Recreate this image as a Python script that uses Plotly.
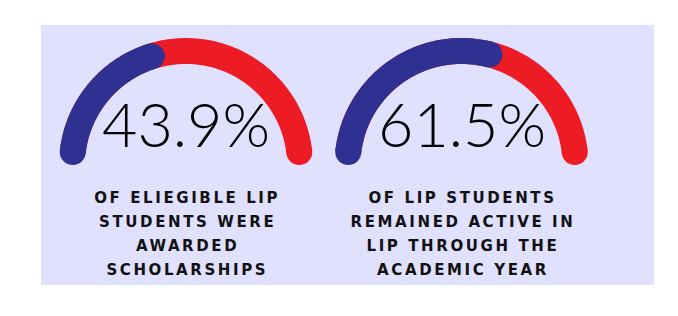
import numpy as np
import plotly.graph_objects as go

# ---- data ----
values = [43.9, 61.5]
value_labels = ["43.9%", "61.5%"]
captions = [
    ["OF ELIEGIBLE LIP", "STUDENTS WERE", "AWARDED", "SCHOLARSHIPS"],
    ["OF LIP STUDENTS", "REMAINED ACTIVE IN", "LIP THROUGH THE", "ACADEMIC YEAR"],
]
gauge_max = 100

# ---- layout / style ----
W, H = 678, 316
centers_x = [186, 461.5]
cy = 165
R = 114
LW = 26
BLUE = "#2E3192"
RED = "#ED1C24"
BG = "#E0E0FF"
caption_y = [197.5, 221.7, 245.9, 270.1]
number_y = 123

fig = go.Figure()
delta = np.degrees((LW / 2) / R)


def arc(cx, a0, a1, n=160):
    t = np.radians(np.linspace(a0, a1, n))
    return cx + R * np.cos(t), cy - R * np.sin(t)


for i, v in enumerate(values):
    cx = centers_x[i]
    # red full track
    x, y = arc(cx, 180 - delta, delta)
    fig.add_trace(go.Scatter(x=x, y=y, mode="lines",
                             line=dict(color=RED, width=LW, simplify=False),
                             hoverinfo="skip", showlegend=False))
    fig.add_trace(go.Scatter(x=[x[-1]], y=[y[-1]], mode="markers",
                             marker=dict(color=RED, size=LW, line_width=0),
                             hoverinfo="skip", showlegend=False))
    # blue value arc
    ang = 180 - v / gauge_max * 180 + delta
    x, y = arc(cx, 180 - delta, ang)
    fig.add_trace(go.Scatter(x=x, y=y, mode="lines",
                             line=dict(color=BLUE, width=LW, simplify=False),
                             hoverinfo="skip", showlegend=False))
    fig.add_trace(go.Scatter(x=[x[0], x[-1]], y=[y[0], y[-1]], mode="markers",
                             marker=dict(color=BLUE, size=LW, line_width=0),
                             hoverinfo="skip", showlegend=False))
    # big number
    fig.add_annotation(x=cx, y=number_y, text=value_labels[i], showarrow=False,
                       xanchor="center", yanchor="middle",
                       font=dict(family="Lato", size=61, weight=300, color="#000000"))
    # caption lines
    for j, line in enumerate(captions[i]):
        fig.add_annotation(x=cx + 1.3, y=caption_y[j], text=line, showarrow=False,
                           xanchor="center", yanchor="middle",
                           font=dict(family="DejaVu Sans", size=15, weight=700, color="#111111"))

fig.add_shape(type="rect", x0=41, x1=654, y0=25, y1=285, fillcolor=BG,
              line=dict(width=0), layer="below")

fig.update_layout(
    width=W, height=H, margin=dict(l=0, r=0, t=0, b=0),
    paper_bgcolor="white", plot_bgcolor="white",
    xaxis=dict(range=[0, W], visible=False, fixedrange=True),
    yaxis=dict(range=[H, 0], visible=False, fixedrange=True),
    showlegend=False,
)

js = """
document.querySelectorAll('.annotation-text').forEach(function(t){
  var fs = parseFloat(t.style.fontSize);
  if (fs < 30) { t.style.letterSpacing = '2.6px'; }
});
"""
fig.write_html("out.html", post_script=js, config={"displayModeBar": False})
